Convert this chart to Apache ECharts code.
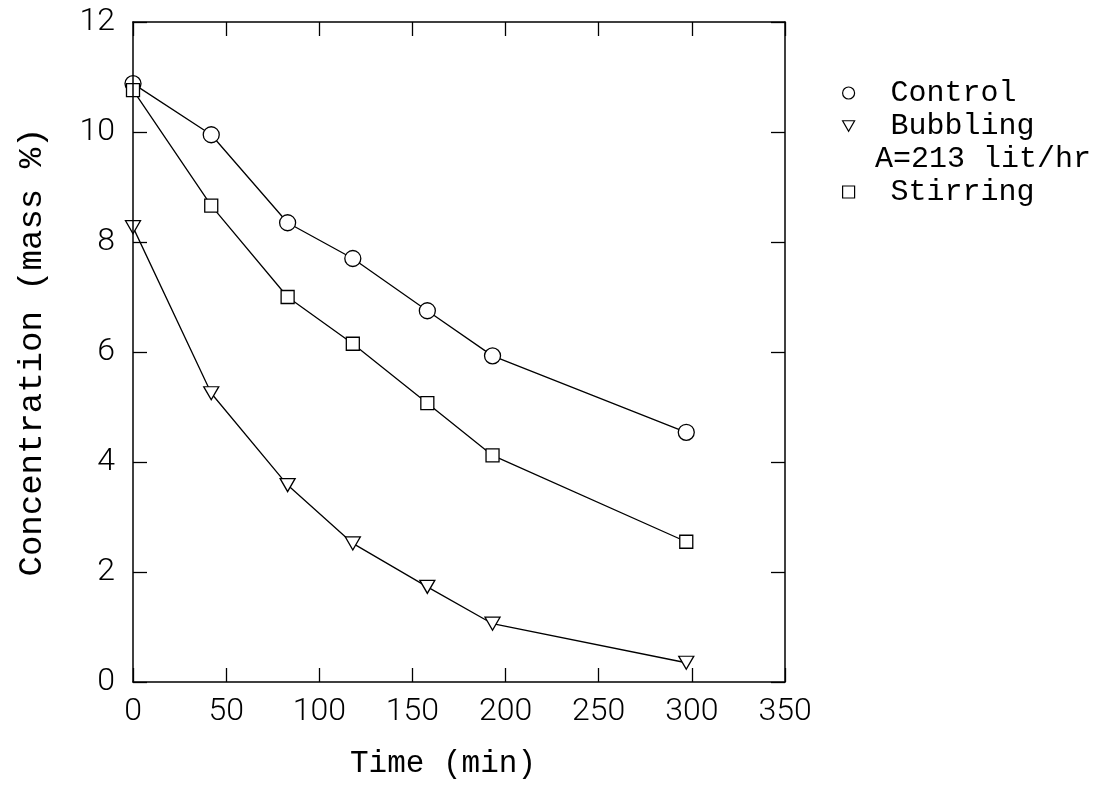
<!DOCTYPE html>
<html>
<head>
<meta charset="utf-8">
<script src="https://cdn.jsdelivr.net/npm/echarts@6/dist/echarts.min.js"></script>
<style>
  html, body { margin: 0; padding: 0; background: #fff; }
  #chart { width: 1102px; height: 785px; }
</style>
</head>
<body>
<div id="chart"></div>
<script>
// Sampling times (min) and measured concentrations (mass %)
const timeMin  = [0, 42, 83, 118, 158, 193, 297];
const control  = [10.88, 9.95, 8.35, 7.70, 6.75, 5.93, 4.54];
const bubbling = [8.27, 5.25, 3.58, 2.52, 1.73, 1.06, 0.35];
const stirring = [10.76, 8.66, 7.00, 6.15, 5.07, 4.12, 2.55];

const seriesNames = ['Control', 'Bubbling', 'Stirring'];
const bubblingNote = 'A=213 lit/hr';

// Axis ranges
const xMin = 0, xMax = 350, xStep = 50;
const yMin = 0, yMax = 12, yStep = 2;

const INK = '#000';
const tickFont = 'Roboto';
const textFont = '"Liberation Mono", "DejaVu Sans Mono", monospace';
const downTriangle = 'path://M0,0 L16,0 L8,14 Z';

const pairs = (ys) => timeMin.map((t, i) => [t, ys[i]]);

const frameLine = { show: true, onZero: false, lineStyle: { color: INK, width: 1.5 } };
const innerTick = { show: true, inside: true, length: 14, lineStyle: { color: INK, width: 1.3 } };
const tickLabel = { color: INK, fontFamily: tickFont, fontWeight: 300, fontSize: 32 };

function lineSeries(name, ys, symbol, size) {
  return {
    type: 'line',
    name: name,
    data: pairs(ys),
    symbol: symbol,
    symbolSize: size,
    showSymbol: true,
    lineStyle: { color: INK, width: 1.3 },
    itemStyle: { color: '#fff', borderColor: INK, borderWidth: 1.3 },
    emphasis: { disabled: true },
    z: 2
  };
}

function legendFor(name, icon, top) {
  return {
    data: [{ name: name, icon: icon }],
    left: 842,
    top: top,
    padding: 0,
    itemWidth: 12,
    itemHeight: 12,
    selectedMode: false,
    itemStyle: { color: '#fff', borderColor: INK, borderWidth: 1.2 },
    textStyle: { color: INK, fontFamily: textFont, fontSize: 30, padding: [0, 0, 0, 31] }
  };
}

const chart = echarts.init(document.getElementById('chart'), null, { renderer: 'canvas' });

chart.setOption({
  animation: false,
  backgroundColor: '#fff',
  grid: { left: 133, right: 317, top: 22, bottom: 103 },
  xAxis: [
    {
      type: 'value', min: xMin, max: xMax, interval: xStep, position: 'bottom', z: 5,
      axisLine: frameLine, axisTick: innerTick,
      axisLabel: Object.assign({ margin: 14, showMinLabel: true, showMaxLabel: true }, tickLabel),
      splitLine: { show: false },
      name: 'Time (min)', nameLocation: 'middle', nameGap: 66,
      nameTextStyle: { color: INK, fontFamily: textFont, fontSize: 31, padding: [0, 32, 0, 0] }
    },
    {
      type: 'value', min: xMin, max: xMax, interval: xStep, position: 'top', z: 5,
      axisLine: frameLine, axisTick: innerTick,
      axisLabel: { show: false }, splitLine: { show: false }
    }
  ],
  yAxis: [
    {
      type: 'value', min: yMin, max: yMax, interval: yStep, position: 'left', z: 5,
      axisLine: frameLine, axisTick: innerTick,
      axisLabel: Object.assign({ margin: 18, showMinLabel: true, showMaxLabel: true }, tickLabel),
      splitLine: { show: false },
      name: 'Concentration (mass %)', nameLocation: 'middle', nameGap: 84,
      nameTextStyle: { color: INK, fontFamily: textFont, fontSize: 34 }
    },
    {
      type: 'value', min: yMin, max: yMax, interval: yStep, position: 'right', z: 5,
      axisLine: frameLine, axisTick: innerTick,
      axisLabel: { show: false }, splitLine: { show: false }
    }
  ],
  legend: [
    legendFor(seriesNames[0], 'circle', 78),
    legendFor(seriesNames[1], downTriangle, 111),
    legendFor(seriesNames[2], 'rect', 177)
  ],
  graphic: [
    {
      type: 'text', left: 875, top: 144,
      style: { text: bubblingNote, fill: INK, font: '30px "Liberation Mono", monospace' }
    }
  ],
  series: [
    lineSeries(seriesNames[0], control, 'circle', 16),
    lineSeries(seriesNames[1], bubbling, downTriangle, [15, 13]),
    lineSeries(seriesNames[2], stirring, 'rect', 13)
  ]
});
</script>
</body>
</html>
